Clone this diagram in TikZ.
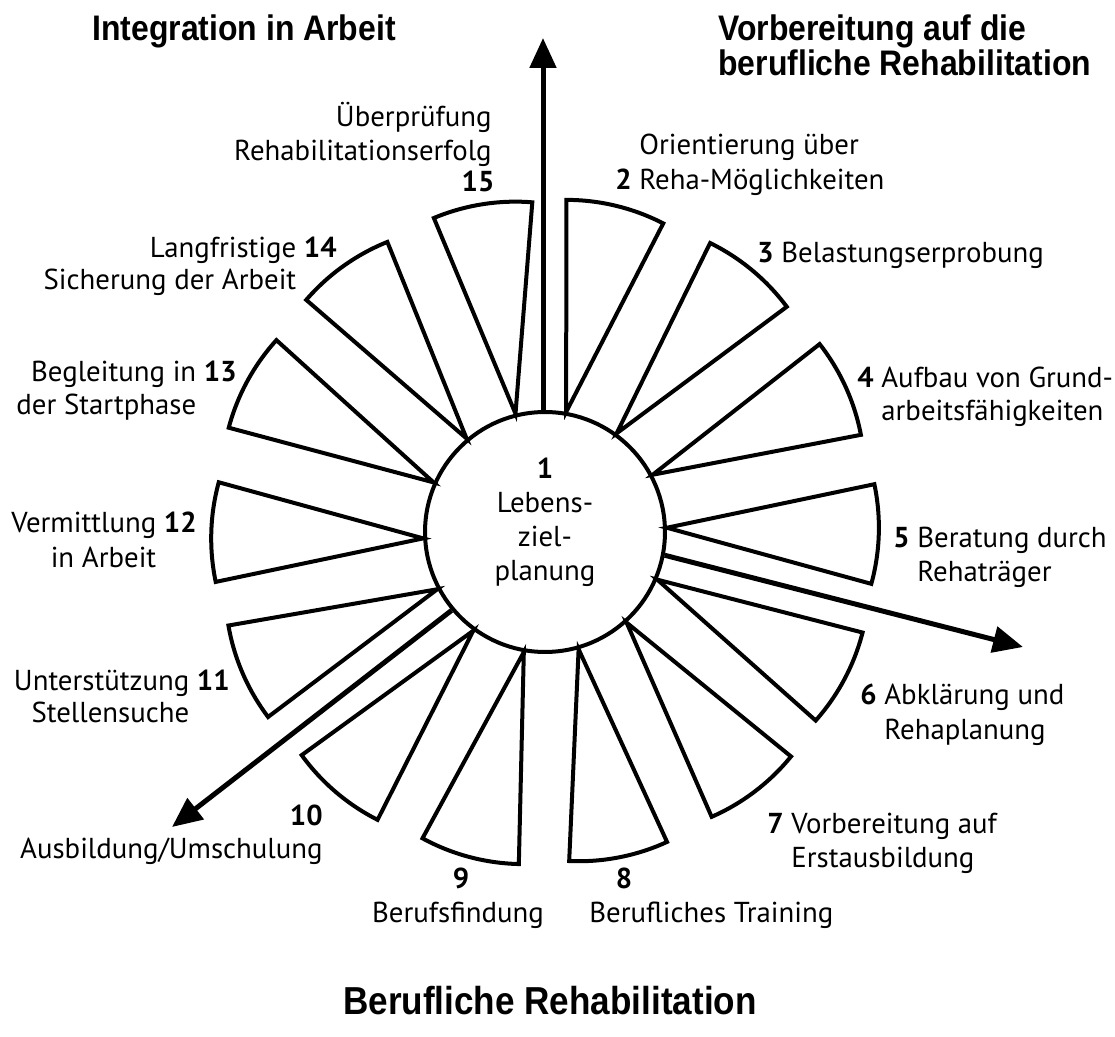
\documentclass[tikz,border=0pt]{standalone}
\usepackage{fontspec}
\setmainfont{PT Sans}
\newfontfamily\headfont{Liberation Sans}[FakeStretch=0.9]
\usetikzlibrary{arrows.meta}
\begin{document}
\begin{tikzpicture}[x=0.02cm,y=0.02cm,
  segline/.style={line width=0.08cm, line join=miter, fill=white},
  flow/.style={line width=0.1cm, -{Triangle[length=0.6cm,width=0.52cm]}},
  lbl/.style={inner sep=0, font=\fontsize{16.4}{19.6}\selectfont},
  head/.style={inner sep=0, font=\headfont\bfseries\fontsize{20.2}{22}\selectfont}]
\useasboundingbox (-545,-505) rectangle (570,532);

% central circle
\node[circle, draw, line width=0.08cm, minimum size=4.8cm, inner sep=0] (hub) at (0,0) {};
\node[lbl, anchor=base] (hubnum) at (0,53) {\textbf{1}};
\node[lbl, anchor=base] (hubl1) at (0,19) {Lebens-};
\node[lbl, anchor=base] (hubl2) at (0,-15) {ziel-};
\node[lbl, anchor=base] (hubl3) at (0,-49) {planung};

% fourteen wedges, apex on the circle, outer edge an arc around the apex
\foreach \n/\a in {2/80.5, 3/54.4, 4/28.6, 5/2.4, 6/-23.9, 7/-48.6, 8/-74.8,
                   9/-100.8, 10/-126.3, 11/-152.4, 12/-177.6, 13/-204.4,
                   14/-230.3, 15/-256.8} {
  \pgfmathsetmacro\b{\a-4.15}
  \pgfmathsetmacro\bl{\b+13.6}
  \pgfmathsetmacro\br{\b-13.6}
  \draw[segline] (hub.\a) -- ++(\bl:212)
        arc[start angle=\bl, end angle=\br, radius=212] -- cycle;
}

% the three directions
\coordinate (uptip) at (-2,494);
\coordinate (righttip) at (478,-115);
\coordinate (lefttip) at (-373,-295);
\draw[flow] (hub.north -| uptip) -- (uptip);
\draw[flow] (hub.-11.1) -- (righttip);
\draw[flow] (hub.-140.7) -- (lefttip);

% headings
\node[head, anchor=base west] (hIntegration) at (-453,491) {Integration in Arbeit};
\node[head, anchor=base west] (hVorb1) at (173,491) {Vorbereitung auf die};
\node[head, anchor=base west] (hVorb2) at (173,456) {berufliche Rehabilitation};
\node[head, anchor=base, font=\headfont\bfseries\fontsize{22.2}{24}\selectfont]
      (hBeruf) at (5,-482) {Berufliche Rehabilitation};

% right side labels
\node[lbl, anchor=base west] (t2a) at (70,377) {\phantom{\textbf{2} }Orientierung über};
\node[lbl, anchor=base west] (t2b) at (70,342) {\textbf{2} Reha-Möglichkeiten};
\node[lbl, anchor=base west] (t3) at (212,269) {\textbf{3} Belastungserprobung};
\node[lbl, anchor=base west] (t4a) at (312,144) {\textbf{4} Aufbau von Grund-};
\node[lbl, anchor=base west] (t4b) at (312,111) {\phantom{\textbf{4} }arbeitsfähigkeiten};
\node[lbl, anchor=base west] (t5a) at (348,-16) {\textbf{5} Beratung durch};
\node[lbl, anchor=base west] (t5b) at (348,-50) {\phantom{\textbf{5} }Rehaträger};
\node[lbl, anchor=base west] (t6a) at (315,-173) {\textbf{6} Abklärung und};
\node[lbl, anchor=base west] (t6b) at (315,-207) {\phantom{\textbf{6} }Rehaplanung};
\node[lbl, anchor=base west] (t7a) at (222,-301) {\textbf{7} Vorbereitung auf};
\node[lbl, anchor=base west] (t7b) at (222,-335) {\phantom{\textbf{7} }Erstausbildung};

% bottom labels
\node[lbl, anchor=base] (t8a) at (79,-356) {\textbf{8}};
\node[lbl, anchor=base west] (t8b) at (44,-390) {Berufliches Training};
\node[lbl, anchor=base] (t9a) at (-84,-356) {\textbf{9}};
\node[lbl, anchor=base] (t9b) at (-87,-390) {Berufsfindung};

% left side labels
\node[lbl, anchor=base east] (t10a) at (-222,-293) {\textbf{10}};
\node[lbl, anchor=base east] (t10b) at (-222,-326) {Ausbildung/Umschulung};
\node[lbl, anchor=base east] (t11a) at (-315,-158) {Unterstützung \textbf{11}};
\node[lbl, anchor=base east] (t11b) at (-315,-191) {Stellensuche\phantom{ \textbf{11}}};
\node[lbl, anchor=base east] (t12a) at (-348,-1) {Vermittlung \textbf{12}};
\node[lbl, anchor=base east] (t12b) at (-348,-36) {in Arbeit\phantom{ \textbf{12}}};
\node[lbl, anchor=base east] (t13a) at (-308,150) {Begleitung in \textbf{13}};
\node[lbl, anchor=base east] (t13b) at (-308,117) {der Startphase\phantom{ \textbf{13}}};
\node[lbl, anchor=base east] (t14a) at (-208,274) {Langfristige \textbf{14}};
\node[lbl, anchor=base east] (t14b) at (-208,242) {Sicherung der Arbeit\phantom{ \textbf{14}}};
\node[lbl, anchor=base east] (t15a) at (-53,405) {Überprüfung};
\node[lbl, anchor=base east] (t15b) at (-53,371) {Rehabilitationserfolg};
\node[lbl, anchor=base] (t15c) at (-67,340) {\textbf{15}};
\end{tikzpicture}
\end{document}
